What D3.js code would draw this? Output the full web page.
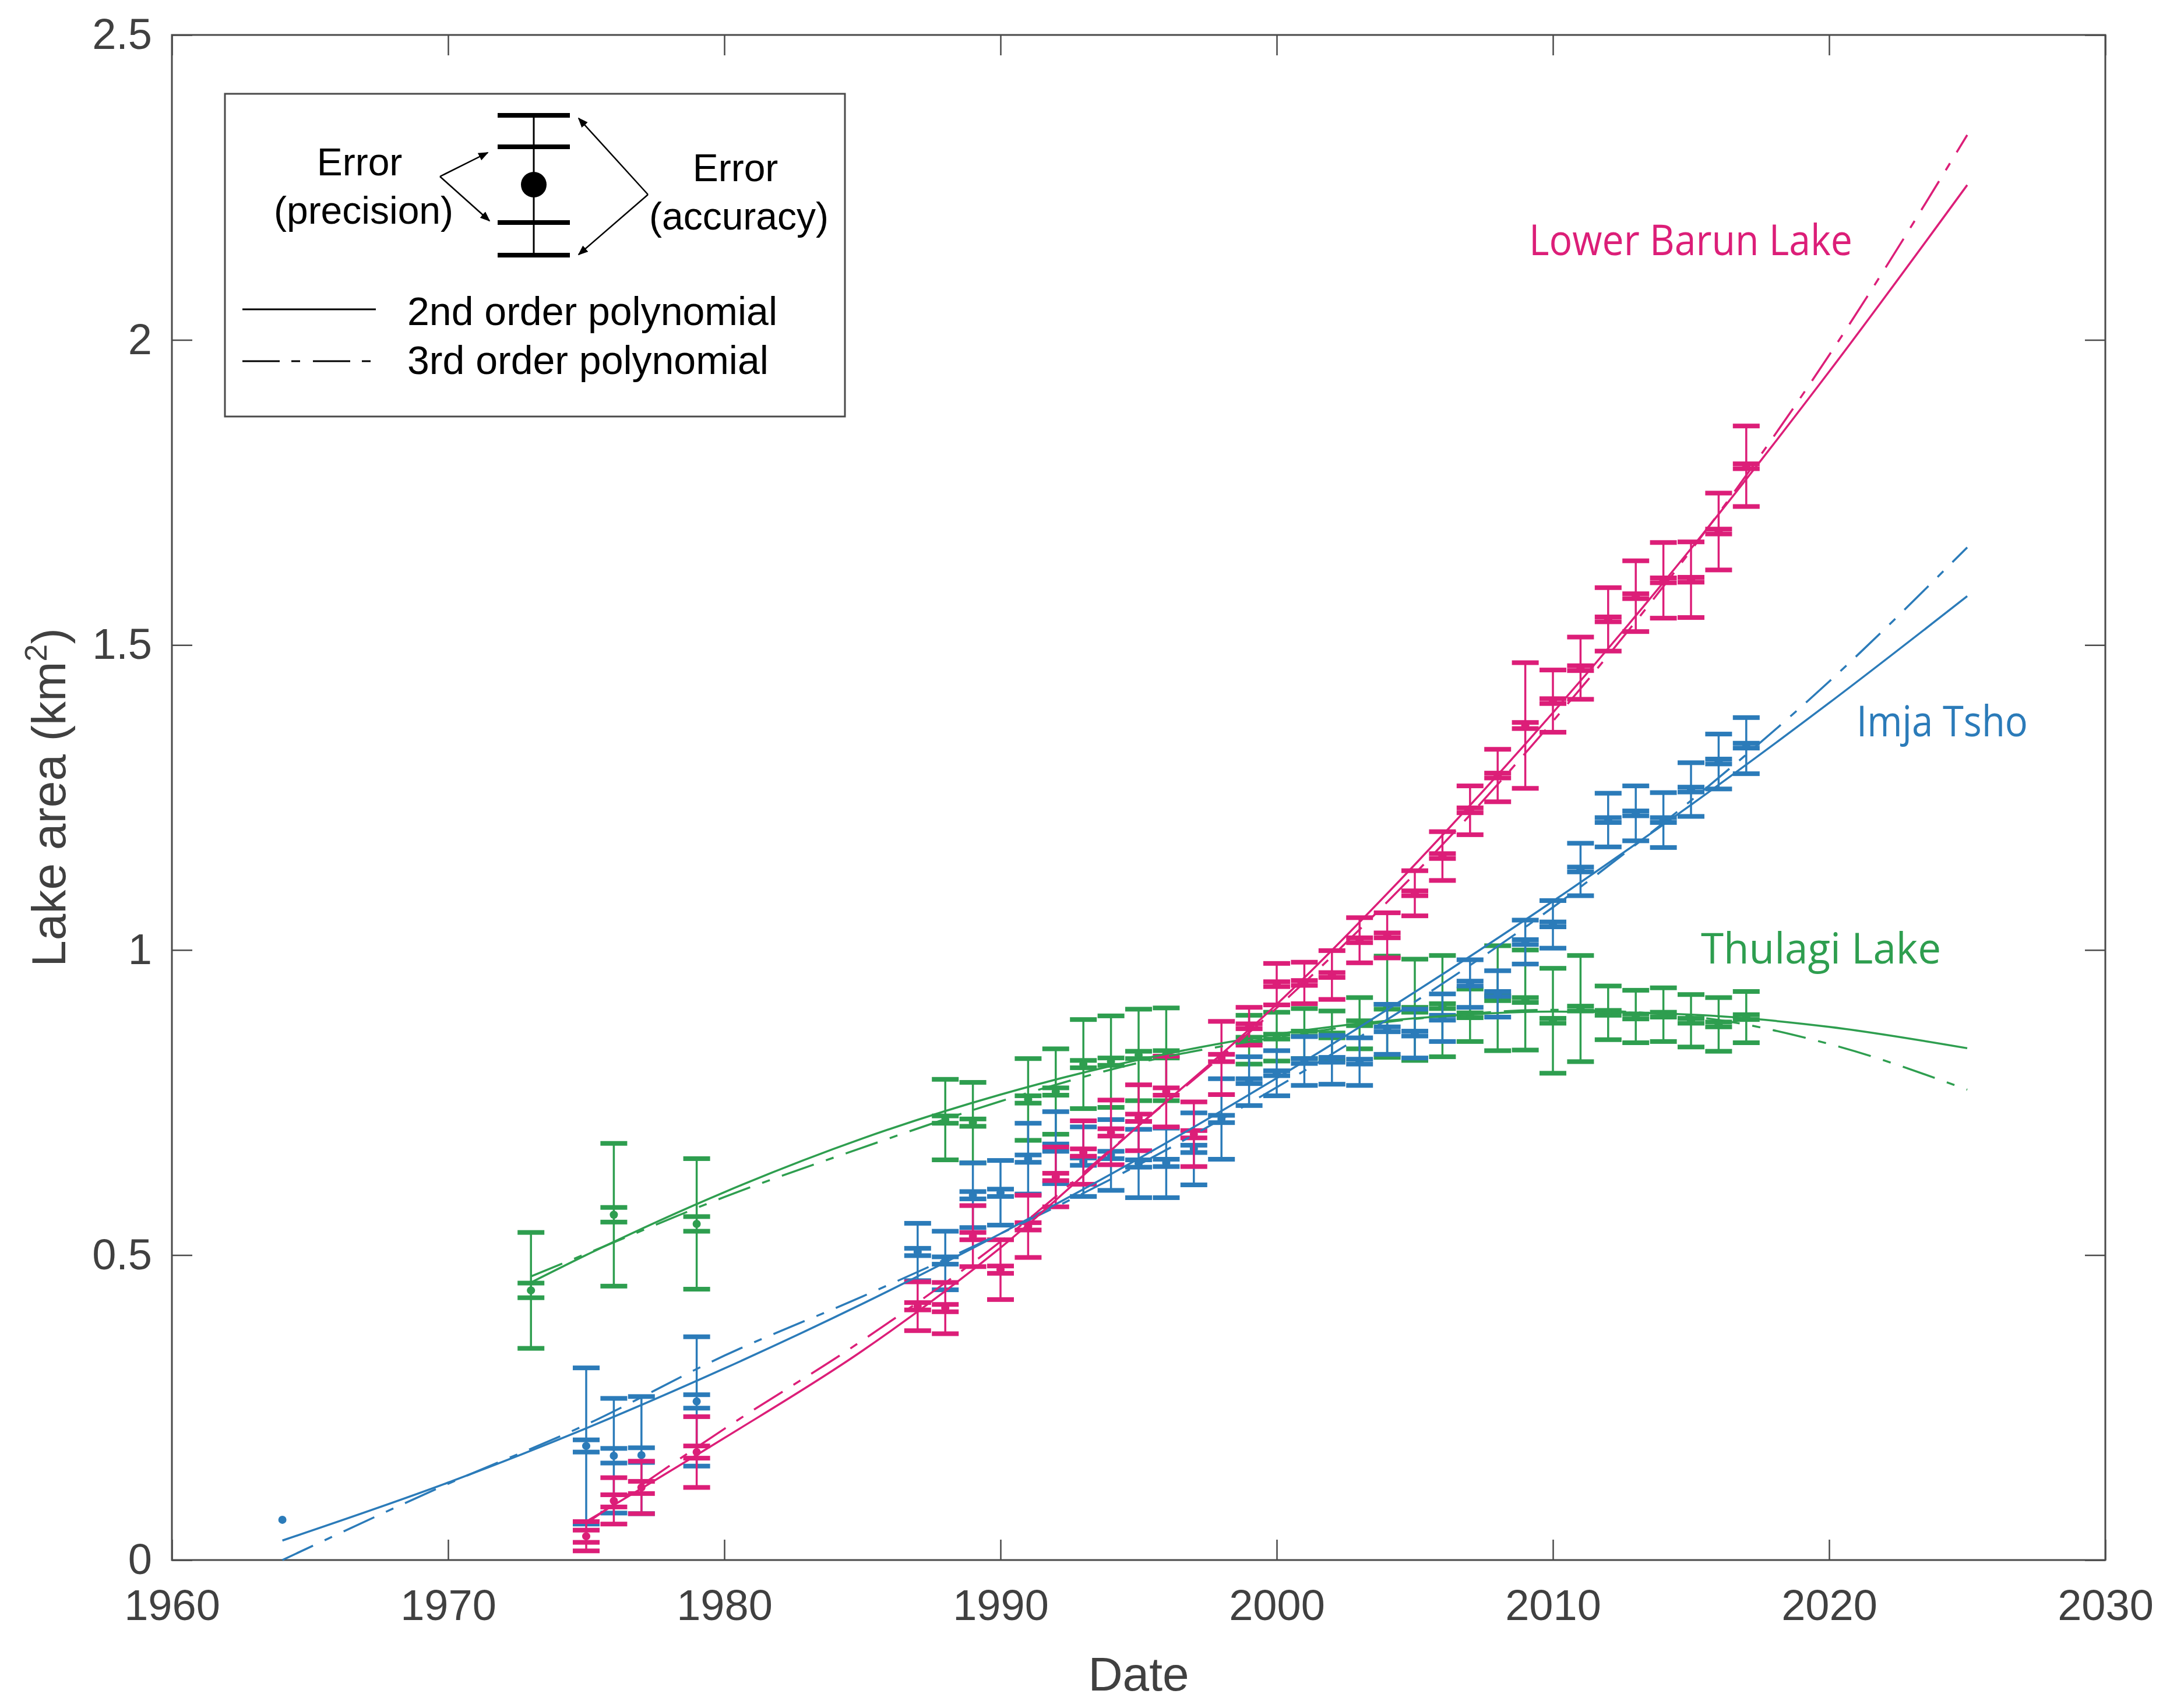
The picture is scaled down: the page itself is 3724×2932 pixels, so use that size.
<!DOCTYPE html>
<html lang="en">
<head>
  <meta charset="UTF-8">
  <title>Lake area</title>
  <style>
    body { margin: 0; padding: 0; background: #ffffff; }
    svg text { font-family: "Liberation Sans", Arial, sans-serif; }
    .lake-label { font-family: "Open Sans", sans-serif; }
  </style>
  <script src="https://d3js.org/d3.v7.min.js"></script>
</head>
<body>
  <div id="chart"></div>
  <script>
    // --- data (year, area km2, precision +/-, accuracy +/-) ---
    const barunYears = [1975, 1976, 1977, 1979, 1987, 1988, 1989, 1990, 1991, 1992, 1993, 1994, 1995, 1996, 1997, 1998,
      1999, 2000, 2001, 2002, 2003, 2004, 2005, 2006, 2007, 2008, 2009, 2010, 2011, 2012, 2013, 2014, 2015, 2016, 2017];
    const barunArea = [0.039, 0.097, 0.119, 0.177, 0.416, 0.413, 0.531, 0.476, 0.547, 0.628, 0.668, 0.701, 0.725, 0.768, 0.698, 0.823,
      0.875, 0.944, 0.946, 0.959, 1.016, 1.024, 1.093, 1.154, 1.229, 1.286, 1.368, 1.408, 1.462, 1.542, 1.580, 1.606, 1.607, 1.686, 1.793];
    const barunPrec = [0.010, 0.010, 0.010, 0.010, 0.006, 0.006, 0.006, 0.006, 0.006, 0.006, 0.006, 0.006, 0.006, 0.006, 0.006, 0.006,
      0.004, 0.004, 0.004, 0.004, 0.004, 0.004, 0.004, 0.004, 0.004, 0.004, 0.005, 0.004, 0.004, 0.004, 0.004, 0.004, 0.004, 0.004, 0.004];
    const barunAcc = [0.024, 0.038, 0.043, 0.058, 0.040, 0.042, 0.050, 0.049, 0.051, 0.049, 0.052, 0.053, 0.054, 0.058, 0.053, 0.060,
      0.031, 0.034, 0.034, 0.040, 0.037, 0.037, 0.037, 0.040, 0.040, 0.043, 0.103, 0.051, 0.051, 0.052, 0.058, 0.062, 0.062, 0.063, 0.066];

    const imjaYears = [1964, 1975, 1976, 1977, 1979, 1987, 1988, 1989, 1990, 1991, 1992, 1993, 1994, 1995, 1996, 1997, 1998,
      1999, 2000, 2001, 2002, 2003, 2004, 2005, 2006, 2007, 2008, 2009, 2010, 2011, 2012, 2013, 2014, 2015, 2016, 2017];
    const imjaArea = [0.066, 0.187, 0.171, 0.172, 0.260, 0.505, 0.491, 0.598, 0.602, 0.658, 0.676, 0.653, 0.664, 0.650, 0.651, 0.674, 0.723,
      0.785, 0.798, 0.818, 0.820, 0.817, 0.870, 0.863, 0.889, 0.945, 0.928, 1.013, 1.042, 1.132, 1.213, 1.224, 1.213, 1.263, 1.309, 1.335];
    const imjaPrec = [0, 0.010, 0.012, 0.012, 0.011, 0.006, 0.006, 0.006, 0.006, 0.006, 0.006, 0.006, 0.006, 0.006, 0.006, 0.006, 0.006,
      0.004, 0.004, 0.004, 0.004, 0.004, 0.004, 0.004, 0.004, 0.004, 0.004, 0.004, 0.004, 0.004, 0.004, 0.004, 0.004, 0.004, 0.004, 0.004];
    const imjaAcc = [0, 0.128, 0.094, 0.096, 0.106, 0.047, 0.048, 0.053, 0.053, 0.058, 0.059, 0.057, 0.058, 0.056, 0.057, 0.059, 0.066,
      0.040, 0.037, 0.040, 0.040, 0.039, 0.041, 0.040, 0.039, 0.039, 0.038, 0.036, 0.039, 0.043, 0.044, 0.045, 0.045, 0.044, 0.045, 0.046];

    const thulagiYears = [1973, 1976, 1979, 1988, 1989, 1991, 1992, 1993, 1994, 1995, 1996, 1999, 2000, 2001, 2002, 2003,
      2004, 2005, 2006, 2007, 2008, 2009, 2010, 2011, 2012, 2013, 2014, 2015, 2016, 2017];
    const thulagiArea = [0.442, 0.566, 0.551, 0.722, 0.717, 0.755, 0.768, 0.813, 0.817, 0.828, 0.829, 0.853, 0.858, 0.863, 0.860, 0.880,
      0.907, 0.902, 0.908, 0.893, 0.921, 0.918, 0.884, 0.904, 0.897, 0.891, 0.894, 0.884, 0.878, 0.890];
    const thulagiPrec = [0.012, 0.012, 0.012, 0.006, 0.006, 0.006, 0.006, 0.006, 0.006, 0.006, 0.006, 0.004, 0.004, 0.004, 0.004, 0.004,
      0.004, 0.004, 0.004, 0.004, 0.004, 0.004, 0.004, 0.004, 0.004, 0.004, 0.004, 0.004, 0.004, 0.004];
    const thulagiAcc = [0.095, 0.117, 0.107, 0.066, 0.066, 0.067, 0.070, 0.073, 0.075, 0.075, 0.076, 0.040, 0.040, 0.041, 0.040, 0.042,
      0.083, 0.083, 0.083, 0.043, 0.086, 0.082, 0.086, 0.087, 0.044, 0.043, 0.044, 0.043, 0.044, 0.042];

    // fitted curves at sample years
    const barunFitYears = [1975, 1980, 1985, 1990, 1995, 2000, 2005, 2010, 2015, 2020, 2025];
    const barunFit2 = [0.063, 0.200, 0.343, 0.512, 0.712, 0.911, 1.140, 1.389, 1.658, 1.948, 2.254];
    const barunFit3 = [0.060, 0.215, 0.360, 0.522, 0.712, 0.905, 1.125, 1.375, 1.655, 1.975, 2.336];

    const imjaFitYears = [1964, 1970, 1975, 1980, 1985, 1990, 1995, 2000, 2005, 2010, 2015, 2020, 2025];
    const imjaFit2 = [0.032, 0.127, 0.216, 0.314, 0.420, 0.535, 0.658, 0.790, 0.931, 1.080, 1.238, 1.405, 1.580];
    const imjaFit3 = [0.000, 0.125, 0.222, 0.335, 0.432, 0.535, 0.648, 0.775, 0.915, 1.070, 1.245, 1.440, 1.660];

    const thulagiFitYears = [1973, 1975, 1980, 1985, 1990, 1995, 2000, 2005, 2010, 2015, 2020, 2025];
    const thulagiFit2 = [0.455, 0.500, 0.603, 0.691, 0.763, 0.820, 0.862, 0.888, 0.899, 0.894, 0.874, 0.839];
    const thulagiFit3 = [0.465, 0.502, 0.595, 0.676, 0.752, 0.815, 0.857, 0.887, 0.902, 0.891, 0.846, 0.771];

    const xTicks = [1960, 1970, 1980, 1990, 2000, 2010, 2020, 2030];
    const yTicks = [0, 0.5, 1, 1.5, 2, 2.5];

    const width = 3724;
    const height = 2932;
    const margin = { top: 60, right: 111, bottom: 254, left: 295 };

    const colors = { barun: "#dc1e78", imja: "#2b7bb9", thulagi: "#2e9e4f" };

    const svg = d3.select("#chart")
      .append("svg")
      .attr("width", width)
      .attr("height", height);

    const x = d3.scaleLinear().domain([1960, 2030]).range([margin.left, width - margin.right]);
    const y = d3.scaleLinear().domain([0, 2.5]).range([height - margin.bottom, margin.top]);

    const tick = 35;
    const axisColor = "#4a4a4a";

    function styleAxis(g) {
      g.select(".domain").remove();
      g.selectAll(".tick line").attr("stroke", axisColor).attr("stroke-width", 2.5);
      g.selectAll(".tick text").attr("fill", "#404040").attr("font-size", 74)
        .attr("font-family", "'Liberation Sans', Arial, sans-serif");
    }

    svg.append("g")
      .attr("transform", `translate(0,${y(0)})`)
      .call(d3.axisBottom(x).tickValues(xTicks).tickFormat(d3.format("d")).tickSize(-tick).tickSizeOuter(0).tickPadding(50))
      .call(styleAxis);

    svg.append("g")
      .attr("transform", `translate(0,${y(2.5)})`)
      .call(d3.axisTop(x).tickValues(xTicks).tickFormat("").tickSize(-tick).tickSizeOuter(0))
      .call(styleAxis);

    svg.append("g")
      .attr("transform", `translate(${x(1960)},0)`)
      .call(d3.axisLeft(y).tickValues(yTicks).tickFormat(d => d).tickSize(-tick).tickSizeOuter(0).tickPadding(34))
      .call(styleAxis);

    svg.append("g")
      .attr("transform", `translate(${x(2030)},0)`)
      .call(d3.axisRight(y).tickValues(yTicks).tickFormat("").tickSize(-tick).tickSizeOuter(0))
      .call(styleAxis);

    svg.append("rect")
      .attr("x", x(1960)).attr("y", y(2.5))
      .attr("width", x(2030) - x(1960)).attr("height", y(0) - y(2.5))
      .attr("fill", "none").attr("stroke", axisColor).attr("stroke-width", 3);

    // axis titles
    svg.append("text")
      .attr("x", (x(1960) + x(2030)) / 2).attr("y", 2902)
      .attr("text-anchor", "middle").attr("font-size", 82).attr("fill", "#404040")
      .text("Date");

    const yTitle = svg.append("text")
      .attr("transform", `translate(112,${(y(0) + y(2.5)) / 2}) rotate(-90)`)
      .attr("text-anchor", "middle").attr("font-size", 82).attr("fill", "#404040");
    yTitle.append("tspan").text("Lake area (km");
    yTitle.append("tspan").attr("font-size", 54).attr("dy", -32).text("2");
    yTitle.append("tspan").attr("dy", 32).text(")");

    // error bars
    const capW = 46;
    const capH = 8;

    function drawSeries(years, area, prec, acc, color) {
      const pts = years.map((yr, i) => ({ yr, v: area[i], p: prec[i], a: acc[i] }));
      const g = svg.append("g");
      const bars = g.selectAll("g").data(pts).enter().append("g");

      bars.filter(d => d.a > 0).append("line")
        .attr("x1", d => x(d.yr)).attr("x2", d => x(d.yr))
        .attr("y1", d => y(d.v + d.a)).attr("y2", d => y(d.v - d.a))
        .attr("stroke", color).attr("stroke-width", 3.5);

      [d => d.v + d.a, d => d.v - d.a, d => d.v + d.p, d => d.v - d.p].forEach(f => {
        bars.filter(d => d.a > 0).append("rect")
          .attr("x", d => x(d.yr) - capW / 2).attr("y", d => y(f(d)) - capH / 2)
          .attr("width", capW).attr("height", capH)
          .attr("fill", color);
      });

      bars.append("circle")
        .attr("cx", d => x(d.yr)).attr("cy", d => y(d.v))
        .attr("r", 7).attr("fill", color);
    }

    drawSeries(thulagiYears, thulagiArea, thulagiPrec, thulagiAcc, colors.thulagi);
    drawSeries(imjaYears, imjaArea, imjaPrec, imjaAcc, colors.imja);
    drawSeries(barunYears, barunArea, barunPrec, barunAcc, colors.barun);

    // fitted polynomials
    const line = d3.line().x(d => x(d[0])).y(d => y(d[1])).curve(d3.curveMonotoneX);
    const dash = "58,22,14,22";

    function drawFit(years, vals, color, dashed) {
      svg.append("path")
        .datum(years.map((yr, i) => [yr, vals[i]]))
        .attr("d", line)
        .attr("fill", "none")
        .attr("stroke", color)
        .attr("stroke-width", 3.5)
        .attr("stroke-dasharray", dashed ? dash : null);
    }

    drawFit(thulagiFitYears, thulagiFit2, colors.thulagi, false);
    drawFit(thulagiFitYears, thulagiFit3, colors.thulagi, true);
    drawFit(imjaFitYears, imjaFit2, colors.imja, false);
    drawFit(imjaFitYears, imjaFit3, colors.imja, true);
    drawFit(barunFitYears, barunFit2, colors.barun, false);
    drawFit(barunFitYears, barunFit3, colors.barun, true);

    // lake labels
    const labels = [
      { text: "Lower Barun Lake", x: 2624, y: 438, w: 555, color: colors.barun },
      { text: "Imja Tsho", x: 3186, y: 1264, w: 294, color: colors.imja },
      { text: "Thulagi Lake", x: 2919, y: 1654, w: 412, color: colors.thulagi }
    ];
    svg.selectAll(".lake-label").data(labels).enter().append("text")
      .attr("class", "lake-label")
      .attr("x", d => d.x).attr("y", d => d.y)
      .attr("font-size", 74)
      .attr("fill", d => d.color)
      .attr("textLength", d => d.w)
      .attr("lengthAdjust", "spacingAndGlyphs")
      .text(d => d.text);

    // legend box
    const legend = svg.append("g");
    legend.append("rect")
      .attr("x", 386).attr("y", 161).attr("width", 1064).attr("height", 554)
      .attr("fill", "#ffffff").attr("stroke", "#4a4a4a").attr("stroke-width", 3);

    svg.append("defs").append("marker")
      .attr("id", "arrow").attr("viewBox", "0 0 10 10")
      .attr("refX", 9).attr("refY", 5)
      .attr("markerWidth", 7).attr("markerHeight", 7)
      .attr("orient", "auto")
      .append("path").attr("d", "M0,1 L10,5 L0,9 Z").attr("fill", "#000");

    const ex = 916;
    legend.append("line").attr("x1", ex).attr("x2", ex).attr("y1", 198).attr("y2", 440)
      .attr("stroke", "#000").attr("stroke-width", 3);
    [198, 252, 382, 438].forEach(v => {
      legend.append("rect").attr("x", ex - 62).attr("y", v - 4).attr("width", 124).attr("height", 8).attr("fill", "#000");
    });
    legend.append("ellipse").attr("cx", ex).attr("cy", 317).attr("rx", 22).attr("ry", 22).attr("fill", "#000");

    [[755, 303, 837, 262], [755, 303, 840, 379], [1112, 334, 993, 203], [1112, 334, 993, 437]].forEach(a => {
      legend.append("line")
        .attr("x1", a[0]).attr("y1", a[1]).attr("x2", a[2]).attr("y2", a[3])
        .attr("stroke", "#000").attr("stroke-width", 2.5)
        .attr("marker-end", "url(#arrow)");
    });

    const legendText = [
      { t: "Error", x: 617, y: 301 },
      { t: "(precision)", x: 624, y: 384 },
      { t: "Error", x: 1262, y: 311 },
      { t: "(accuracy)", x: 1268, y: 394 }
    ];
    legend.selectAll(".err").data(legendText).enter().append("text")
      .attr("x", d => d.x).attr("y", d => d.y)
      .attr("text-anchor", "middle").attr("font-size", 66).attr("fill", "#000")
      .text(d => d.t);

    legend.append("line").attr("x1", 416).attr("x2", 645).attr("y1", 531).attr("y2", 531)
      .attr("stroke", "#000").attr("stroke-width", 3);
    legend.append("line").attr("x1", 416).attr("x2", 645).attr("y1", 620).attr("y2", 620)
      .attr("stroke", "#000").attr("stroke-width", 3).attr("stroke-dasharray", "64,20,15,22");
    legend.append("text").attr("x", 699).attr("y", 558).attr("font-size", 68).attr("fill", "#000")
      .text("2nd order polynomial");
    legend.append("text").attr("x", 699).attr("y", 642).attr("font-size", 68).attr("fill", "#000")
      .text("3rd order polynomial");
  </script>
</body>
</html>
